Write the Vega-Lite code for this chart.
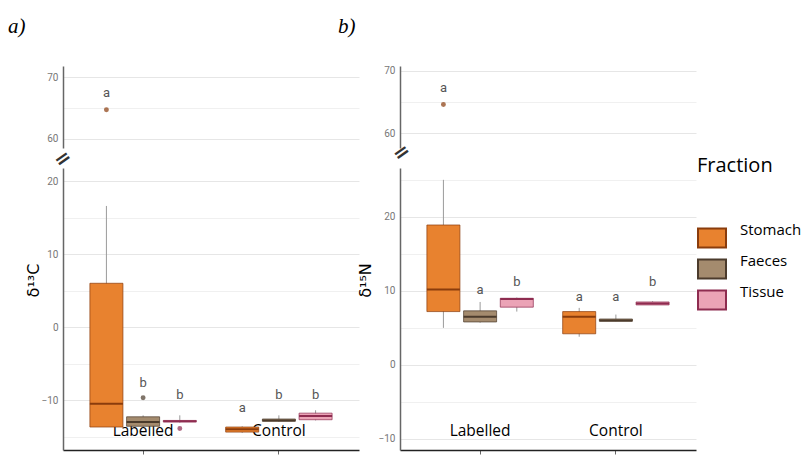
{
  "$schema": "https://vega.github.io/schema/vega-lite/v6.json",
  "autosize": {"type": "none"},
  "padding": {"left": 63, "top": 66, "right": 741, "bottom": 389},
  "background": "white",
  "datasets": {
    "boxes": [
      {"panel": "a", "Treatment": "Labelled", "Fraction": "Stomach", "lower": -13.7, "q1": -13.7, "median": -10.5, "q3": 6.0, "upper": 16.6},
      {"panel": "a", "Treatment": "Labelled", "Fraction": "Faeces", "lower": -13.7, "q1": -13.6, "median": -13.0, "q3": -12.3, "upper": -12.1},
      {"panel": "a", "Treatment": "Labelled", "Fraction": "Tissue", "lower": -13.1, "q1": -13.0, "median": -12.9, "q3": -12.8, "upper": -12.1},
      {"panel": "a", "Treatment": "Control", "Fraction": "Stomach", "lower": -14.5, "q1": -14.4, "median": -14.0, "q3": -13.7, "upper": -13.6},
      {"panel": "a", "Treatment": "Control", "Fraction": "Faeces", "lower": -13.0, "q1": -12.9, "median": -12.8, "q3": -12.6, "upper": -12.1},
      {"panel": "a", "Treatment": "Control", "Fraction": "Tissue", "lower": -12.8, "q1": -12.7, "median": -12.2, "q3": -11.8, "upper": -11.4},
      {"panel": "b", "Treatment": "Labelled", "Fraction": "Stomach", "lower": 5.0, "q1": 7.2, "median": 10.2, "q3": 18.9, "upper": 25.0},
      {"panel": "b", "Treatment": "Labelled", "Fraction": "Faeces", "lower": 5.7, "q1": 5.8, "median": 6.5, "q3": 7.3, "upper": 8.5},
      {"panel": "b", "Treatment": "Labelled", "Fraction": "Tissue", "lower": 7.2, "q1": 7.8, "median": 8.9, "q3": 9.0, "upper": 9.1},
      {"panel": "b", "Treatment": "Control", "Fraction": "Stomach", "lower": 3.8, "q1": 4.2, "median": 6.5, "q3": 7.2, "upper": 7.7},
      {"panel": "b", "Treatment": "Control", "Fraction": "Faeces", "lower": 5.9, "q1": 5.9, "median": 6.0, "q3": 6.2, "upper": 6.8},
      {"panel": "b", "Treatment": "Control", "Fraction": "Tissue", "lower": 8.1, "q1": 8.1, "median": 8.3, "q3": 8.5, "upper": 8.6}
    ],
    "outliers": [
      {"panel": "a", "section": "top", "Treatment": "Labelled", "Fraction": "Stomach", "value": 64.7},
      {"panel": "a", "section": "bottom", "Treatment": "Labelled", "Fraction": "Faeces", "value": -9.7},
      {"panel": "a", "section": "bottom", "Treatment": "Labelled", "Fraction": "Tissue", "value": -13.9},
      {"panel": "b", "section": "top", "Treatment": "Labelled", "Fraction": "Stomach", "value": 64.6}
    ],
    "letters": [
      {"panel": "a", "section": "top", "Treatment": "Labelled", "Fraction": "Stomach", "letter": "a", "value": 67.4},
      {"panel": "a", "section": "bottom", "Treatment": "Labelled", "Fraction": "Faeces", "letter": "b", "value": -7.7},
      {"panel": "a", "section": "bottom", "Treatment": "Labelled", "Fraction": "Tissue", "letter": "b", "value": -9.3},
      {"panel": "a", "section": "bottom", "Treatment": "Control", "Fraction": "Stomach", "letter": "a", "value": -11.1},
      {"panel": "a", "section": "bottom", "Treatment": "Control", "Fraction": "Faeces", "letter": "b", "value": -9.3},
      {"panel": "a", "section": "bottom", "Treatment": "Control", "Fraction": "Tissue", "letter": "b", "value": -9.3},
      {"panel": "b", "section": "top", "Treatment": "Labelled", "Fraction": "Stomach", "letter": "a", "value": 67.3},
      {"panel": "b", "section": "bottom", "Treatment": "Labelled", "Fraction": "Faeces", "letter": "a", "value": 10.1},
      {"panel": "b", "section": "bottom", "Treatment": "Labelled", "Fraction": "Tissue", "letter": "b", "value": 11.2},
      {"panel": "b", "section": "bottom", "Treatment": "Control", "Fraction": "Stomach", "letter": "a", "value": 9.2},
      {"panel": "b", "section": "bottom", "Treatment": "Control", "Fraction": "Faeces", "letter": "a", "value": 9.2},
      {"panel": "b", "section": "bottom", "Treatment": "Control", "Fraction": "Tissue", "letter": "b", "value": 11.2}
    ]
  },
  "bounds": "flush",
  "columns": 2,
  "spacing": {"row": 20, "column": 41},
  "concat": [
    {
      "width": 296, "height": 82,
      "title": {"text": "a)", "anchor": "start", "frame": "group", "dx": -55, "offset": 12, "baseline": "alphabetic", "font": "Liberation Serif", "fontStyle": "italic", "fontSize": 21, "fontWeight": "normal", "color": "#000"},
      "encoding": {
        "x": {"field": "Treatment", "type": "nominal", "scale": {"domain": ["Labelled", "Control"], "paddingInner": 0, "paddingOuter": 0.09}, "axis": null},
        "xOffset": {"field": "Fraction", "type": "nominal", "scale": {"domain": ["Stomach", "Faeces", "Tissue"], "paddingInner": 0.1, "paddingOuter": 0.4}}
      },
      "layer": [
        {
          "data": {"name": "outliers"},
          "transform": [{"filter": "datum.panel === 'a' && datum.section === 'top'"}],
          "mark": {"type": "point", "filled": false, "size": 6, "strokeWidth": 2.5},
          "encoding": {
            "y": {"field": "value", "type": "quantitative", "title": null, "scale": {"domain": [58.5, 71.8], "nice": false, "zero": false}, "axis": {"values": [60, 65, 70]}},
            "stroke": {"field": "Fraction", "type": "nominal", "title": "Fraction", "scale": {"domain": ["Stomach", "Faeces", "Tissue"], "range": ["#8a3c0c", "#4b3b2c", "#8e2c50"]}}
          }
        },
        {
          "data": {"name": "letters"},
          "transform": [{"filter": "datum.panel === 'a' && datum.section === 'top'"}],
          "mark": {"type": "text", "baseline": "middle", "fontSize": 13, "font": "Roboto", "color": "#555"},
          "encoding": {
            "y": {"field": "value", "type": "quantitative", "title": null, "scale": {"domain": [58.5, 71.8], "nice": false, "zero": false}},
            "text": {"field": "letter"}
          }
        }
      ]
    },
    {
      "width": 296, "height": 82,
      "title": {"text": "b)", "anchor": "start", "frame": "group", "dx": -62, "offset": 12, "baseline": "alphabetic", "font": "Liberation Serif", "fontStyle": "italic", "fontSize": 21, "fontWeight": "normal", "color": "#000"},
      "encoding": {
        "x": {"field": "Treatment", "type": "nominal", "scale": {"domain": ["Labelled", "Control"], "paddingInner": 0, "paddingOuter": 0.09}, "axis": null},
        "xOffset": {"field": "Fraction", "type": "nominal", "scale": {"domain": ["Stomach", "Faeces", "Tissue"], "paddingInner": 0.1, "paddingOuter": 0.4}}
      },
      "layer": [
        {
          "data": {"name": "outliers"},
          "transform": [{"filter": "datum.panel === 'b' && datum.section === 'top'"}],
          "mark": {"type": "point", "filled": false, "size": 6, "strokeWidth": 2.5},
          "encoding": {
            "y": {"field": "value", "type": "quantitative", "title": null, "scale": {"domain": [57.6, 70.8], "nice": false, "zero": false}, "axis": {"values": [60, 65, 70]}},
            "stroke": {"field": "Fraction", "type": "nominal", "title": "Fraction", "scale": {"domain": ["Stomach", "Faeces", "Tissue"], "range": ["#8a3c0c", "#4b3b2c", "#8e2c50"]}}
          }
        },
        {
          "data": {"name": "letters"},
          "transform": [{"filter": "datum.panel === 'b' && datum.section === 'top'"}],
          "mark": {"type": "text", "baseline": "middle", "fontSize": 13, "font": "Roboto", "color": "#555"},
          "encoding": {
            "y": {"field": "value", "type": "quantitative", "title": null, "scale": {"domain": [57.6, 70.8], "nice": false, "zero": false}},
            "text": {"field": "letter"}
          }
        }
      ]
    },
    {
      "width": 296, "height": 282,
      "title": {"text": "=", "anchor": "start", "frame": "group", "align": "center", "baseline": "middle", "angle": -35, "offset": -17, "dx": 0, "font": "DejaVu Sans", "fontSize": 20, "fontWeight": "bold", "color": "#333"},
      "encoding": {
        "x": {"field": "Treatment", "type": "nominal", "title": null, "scale": {"domain": ["Labelled", "Control"], "paddingInner": 0, "paddingOuter": 0.09}},
        "xOffset": {"field": "Fraction", "type": "nominal", "scale": {"domain": ["Stomach", "Faeces", "Tissue"], "paddingInner": 0.1, "paddingOuter": 0.4}}
      },
      "layer": [
        {
          "data": {"name": "boxes"},
          "transform": [{"filter": "datum.panel === 'a'"}],
          "mark": {"type": "rule", "color": "#9a9a9a", "strokeWidth": 1},
          "encoding": {
            "y": {"field": "lower", "type": "quantitative", "title": "δ¹³C", "scale": {"domain": [-16.85, 21.8], "nice": false, "zero": false}, "axis": {"values": [-15, -10, -5, 0, 5, 10, 15, 20], "titleX": -30, "titleY": 112}},
            "y2": {"field": "upper"}
          }
        },
        {
          "data": {"name": "boxes"},
          "transform": [{"filter": "datum.panel === 'a'"}],
          "mark": {"type": "bar", "strokeWidth": 1, "strokeOpacity": 0.7},
          "encoding": {
            "y": {"field": "q1", "type": "quantitative", "title": "δ¹³C", "scale": {"domain": [-16.85, 21.8], "nice": false, "zero": false}},
            "y2": {"field": "q3"},
            "fill": {"field": "Fraction", "type": "nominal", "title": "Fraction", "scale": {"domain": ["Stomach", "Faeces", "Tissue"], "range": ["#E8822F", "#A48B6E", "#EBA3B6"]}},
            "stroke": {"field": "Fraction", "type": "nominal", "title": "Fraction", "scale": {"domain": ["Stomach", "Faeces", "Tissue"], "range": ["#8a3c0c", "#4b3b2c", "#8e2c50"]}}
          }
        },
        {
          "data": {"name": "boxes"},
          "transform": [{"filter": "datum.panel === 'a'"}],
          "mark": {"type": "bar", "strokeWidth": 2, "fillOpacity": 0},
          "encoding": {
            "y": {"field": "median", "type": "quantitative", "title": "δ¹³C", "scale": {"domain": [-16.85, 21.8], "nice": false, "zero": false}},
            "y2": {"field": "median"},
            "stroke": {"field": "Fraction", "type": "nominal", "title": "Fraction", "scale": {"domain": ["Stomach", "Faeces", "Tissue"], "range": ["#8a3c0c", "#4b3b2c", "#8e2c50"]}}
          }
        },
        {
          "data": {"name": "outliers"},
          "transform": [{"filter": "datum.panel === 'a' && datum.section === 'bottom'"}],
          "mark": {"type": "point", "filled": false, "size": 6, "strokeWidth": 2.5},
          "encoding": {
            "y": {"field": "value", "type": "quantitative", "title": "δ¹³C", "scale": {"domain": [-16.85, 21.8], "nice": false, "zero": false}},
            "stroke": {"field": "Fraction", "type": "nominal", "title": "Fraction", "scale": {"domain": ["Stomach", "Faeces", "Tissue"], "range": ["#8a3c0c", "#4b3b2c", "#8e2c50"]}}
          }
        },
        {
          "data": {"name": "letters"},
          "transform": [{"filter": "datum.panel === 'a' && datum.section === 'bottom'"}],
          "mark": {"type": "text", "baseline": "middle", "fontSize": 13, "font": "Roboto", "color": "#555"},
          "encoding": {
            "y": {"field": "value", "type": "quantitative", "title": "δ¹³C", "scale": {"domain": [-16.85, 21.8], "nice": false, "zero": false}},
            "text": {"field": "letter"}
          }
        }
      ]
    },
    {
      "width": 296, "height": 282,
      "title": {"text": "=", "anchor": "start", "frame": "group", "align": "center", "baseline": "middle", "angle": -35, "offset": -12, "dx": 2, "font": "DejaVu Sans", "fontSize": 20, "fontWeight": "bold", "color": "#333"},
      "encoding": {
        "x": {"field": "Treatment", "type": "nominal", "title": null, "scale": {"domain": ["Labelled", "Control"], "paddingInner": 0, "paddingOuter": 0.09}},
        "xOffset": {"field": "Fraction", "type": "nominal", "scale": {"domain": ["Stomach", "Faeces", "Tissue"], "paddingInner": 0.1, "paddingOuter": 0.4}}
      },
      "layer": [
        {
          "data": {"name": "boxes"},
          "transform": [{"filter": "datum.panel === 'b'"}],
          "mark": {"type": "rule", "color": "#9a9a9a", "strokeWidth": 1},
          "encoding": {
            "y": {"field": "lower", "type": "quantitative", "title": "δ¹⁵N", "scale": {"domain": [-11.5, 26.6], "nice": false, "zero": false}, "axis": {"values": [-10, -5, 0, 5, 10, 15, 20, 25], "titleX": -35, "titleY": 112}},
            "y2": {"field": "upper"}
          }
        },
        {
          "data": {"name": "boxes"},
          "transform": [{"filter": "datum.panel === 'b'"}],
          "mark": {"type": "bar", "strokeWidth": 1, "strokeOpacity": 0.7},
          "encoding": {
            "y": {"field": "q1", "type": "quantitative", "title": "δ¹⁵N", "scale": {"domain": [-11.5, 26.6], "nice": false, "zero": false}},
            "y2": {"field": "q3"},
            "fill": {"field": "Fraction", "type": "nominal", "title": "Fraction", "scale": {"domain": ["Stomach", "Faeces", "Tissue"], "range": ["#E8822F", "#A48B6E", "#EBA3B6"]}},
            "stroke": {"field": "Fraction", "type": "nominal", "title": "Fraction", "scale": {"domain": ["Stomach", "Faeces", "Tissue"], "range": ["#8a3c0c", "#4b3b2c", "#8e2c50"]}}
          }
        },
        {
          "data": {"name": "boxes"},
          "transform": [{"filter": "datum.panel === 'b'"}],
          "mark": {"type": "bar", "strokeWidth": 2, "fillOpacity": 0},
          "encoding": {
            "y": {"field": "median", "type": "quantitative", "title": "δ¹⁵N", "scale": {"domain": [-11.5, 26.6], "nice": false, "zero": false}},
            "y2": {"field": "median"},
            "stroke": {"field": "Fraction", "type": "nominal", "title": "Fraction", "scale": {"domain": ["Stomach", "Faeces", "Tissue"], "range": ["#8a3c0c", "#4b3b2c", "#8e2c50"]}}
          }
        },
        {
          "data": {"name": "letters"},
          "transform": [{"filter": "datum.panel === 'b' && datum.section === 'bottom'"}],
          "mark": {"type": "text", "baseline": "middle", "fontSize": 13, "font": "Roboto", "color": "#555"},
          "encoding": {
            "y": {"field": "value", "type": "quantitative", "title": "δ¹⁵N", "scale": {"domain": [-11.5, 26.6], "nice": false, "zero": false}},
            "text": {"field": "letter"}
          }
        }
      ]
    }
  ],
  "config": {
    "view": {"stroke": null},
    "axisY": {
      "labelExpr": "datum.value % 10 === 0 ? datum.label : ''",
      "grid": true,
      "gridColor": {"condition": {"test": "datum.value % 10 === 0", "value": "#e6e6e6"}, "value": "#f0f0f0"},
      "tickOpacity": {"condition": {"test": "datum.value % 10 === 0", "value": 1}, "value": 0},
      "domainColor": "#666",
      "domainWidth": 1.5,
      "tickColor": "#888",
      "tickSize": 3,
      "labelPadding": 2,
      "labelFont": "Roboto",
      "labelFontSize": 10,
      "labelColor": "#777",
      "titleFont": "DejaVu Sans",
      "titleFontSize": 16,
      "titleFontWeight": "normal",
      "titleColor": "#000",
      "titleBaseline": "middle"
    },
    "axisX": {
      "grid": false,
      "domainColor": "#222",
      "domainWidth": 1.5,
      "tickColor": "#666",
      "tickSize": 4,
      "labelPadding": -24,
      "labelBaseline": "middle",
      "labelAngle": 0,
      "labelFont": "Open Sans",
      "labelFontSize": 15.5,
      "labelColor": "#000",
      "zindex": 1
    },
    "legend": {
      "orient": "none",
      "legendX": 634,
      "legendY": 90,
      "padding": 0,
      "titleFont": "Open Sans",
      "titleFontSize": 20,
      "titleFontWeight": "normal",
      "titleColor": "#000",
      "titlePadding": 47,
      "labelFont": "Open Sans",
      "labelFontSize": 15,
      "labelColor": "#000",
      "labelOffset": 13,
      "labelBaseline": "bottom",
      "symbolType": "M-1,-0.68H1V0.68H-1Z",
      "symbolSize": 784,
      "symbolStrokeWidth": 2,
      "symbolOpacity": 1,
      "rowPadding": 2
    }
  }
}
